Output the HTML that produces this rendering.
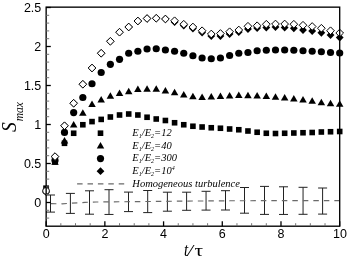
<!DOCTYPE html>
<html><head><meta charset="utf-8"><title>chart</title>
<style>
html,body{margin:0;padding:0;background:#fff}
body{width:353px;height:264px;position:relative;overflow:hidden;font-family:"Liberation Sans",sans-serif;color:#000}
svg{display:block}
</style></head><body>
<svg width="353" height="264" viewBox="0 0 353 264" style="position:absolute;left:0;top:0;will-change:transform;transform:translateZ(0)">
<g stroke="#222" stroke-width="1" fill="none">
<path d="M50.50 195.00V212.10M46.00 195.00H55.00M46.00 212.10H55.00"/>
<path d="M70.40 193.40V213.40M65.90 193.40H74.90M65.90 213.40H74.90"/>
<path d="M89.50 190.80V214.20M85.00 190.80H94.00M85.00 214.20H94.00"/>
<path d="M109.00 189.70V214.45M104.50 189.70H113.50M104.50 214.45H113.50"/>
<path d="M128.50 192.10V211.60M124.00 192.10H133.00M124.00 211.60H133.00"/>
<path d="M147.70 190.50V212.60M143.20 190.50H152.20M143.20 212.60H152.20"/>
<path d="M167.40 192.20V211.20M162.90 192.20H171.90M162.90 211.20H171.90"/>
<path d="M186.60 192.20V210.30M182.10 192.20H191.10M182.10 210.30H191.10"/>
<path d="M206.05 191.30V210.10M201.55 191.30H210.55M201.55 210.10H210.55"/>
<path d="M225.50 190.70V210.00M221.00 190.70H230.00M221.00 210.00H230.00"/>
<path d="M244.50 187.50V213.20M240.00 187.50H249.00M240.00 213.20H249.00"/>
<path d="M264.50 186.40V214.40M260.00 186.40H269.00M260.00 214.40H269.00"/>
<path d="M283.50 186.80V214.45M279.00 186.80H288.00M279.00 214.45H288.00"/>
<path d="M303.05 187.30V214.30M298.55 187.30H307.55M298.55 214.30H307.55"/>
<path d="M322.60 188.00V214.10M318.10 188.00H327.10M318.10 214.10H327.10"/>
</g>
<polyline fill="none" stroke="#6a6a6a" stroke-width="1.15" stroke-dasharray="5.5 5" stroke-dashoffset="5.75" points="46.15,203.6 62,203.8 85,202.4 96,202 150,201.5 185,201.1 230,200.8 280,200.6 339.7,200.6"/>
<path d="M77.1 183.85H125" fill="none" stroke="#6a6a6a" stroke-width="1.15" stroke-dasharray="5.5 4.9"/>
<g fill="#000">
<rect x="52.20" y="159.20" width="5.60" height="5.60"/>
<rect x="61.70" y="140.50" width="5.60" height="5.60"/>
<rect x="70.87" y="130.45" width="5.60" height="5.60"/>
<rect x="80.04" y="121.95" width="5.60" height="5.60"/>
<rect x="89.22" y="118.80" width="5.60" height="5.60"/>
<rect x="98.39" y="116.60" width="5.60" height="5.60"/>
<rect x="107.56" y="114.20" width="5.60" height="5.60"/>
<rect x="116.74" y="112.20" width="5.60" height="5.60"/>
<rect x="125.91" y="111.20" width="5.60" height="5.60"/>
<rect x="135.08" y="112.20" width="5.60" height="5.60"/>
<rect x="144.26" y="114.45" width="5.60" height="5.60"/>
<rect x="153.43" y="116.20" width="5.60" height="5.60"/>
<rect x="162.60" y="117.70" width="5.60" height="5.60"/>
<rect x="171.78" y="119.95" width="5.60" height="5.60"/>
<rect x="180.95" y="121.95" width="5.60" height="5.60"/>
<rect x="190.12" y="123.45" width="5.60" height="5.60"/>
<rect x="199.30" y="124.20" width="5.60" height="5.60"/>
<rect x="208.47" y="124.95" width="5.60" height="5.60"/>
<rect x="217.64" y="125.45" width="5.60" height="5.60"/>
<rect x="226.82" y="126.20" width="5.60" height="5.60"/>
<rect x="235.99" y="126.95" width="5.60" height="5.60"/>
<rect x="245.16" y="128.20" width="5.60" height="5.60"/>
<rect x="254.34" y="129.45" width="5.60" height="5.60"/>
<rect x="263.51" y="130.45" width="5.60" height="5.60"/>
<rect x="272.69" y="130.70" width="5.60" height="5.60"/>
<rect x="281.86" y="130.45" width="5.60" height="5.60"/>
<rect x="291.03" y="130.20" width="5.60" height="5.60"/>
<rect x="300.21" y="129.95" width="5.60" height="5.60"/>
<rect x="309.38" y="129.70" width="5.60" height="5.60"/>
<rect x="318.55" y="129.20" width="5.60" height="5.60"/>
<rect x="327.73" y="128.95" width="5.60" height="5.60"/>
<rect x="336.90" y="128.70" width="5.60" height="5.60"/>
<path d="M51.25 164.70L58.75 164.70L55.00 158.30Z"/>
<path d="M60.75 143.40L68.25 143.40L64.50 137.00Z"/>
<path d="M69.92 127.40L77.42 127.40L73.67 121.00Z"/>
<path d="M79.09 115.70L86.59 115.70L82.84 109.30Z"/>
<path d="M88.27 106.95L95.77 106.95L92.02 100.55Z"/>
<path d="M97.44 102.45L104.94 102.45L101.19 96.05Z"/>
<path d="M106.61 98.70L114.11 98.70L110.36 92.30Z"/>
<path d="M115.79 95.95L123.29 95.95L119.54 89.55Z"/>
<path d="M124.96 94.20L132.46 94.20L128.71 87.80Z"/>
<path d="M134.13 91.95L141.63 91.95L137.88 85.55Z"/>
<path d="M143.31 91.70L150.81 91.70L147.06 85.30Z"/>
<path d="M152.48 91.70L159.98 91.70L156.23 85.30Z"/>
<path d="M161.65 93.45L169.15 93.45L165.40 87.05Z"/>
<path d="M170.83 95.20L178.33 95.20L174.58 88.80Z"/>
<path d="M180.00 97.45L187.50 97.45L183.75 91.05Z"/>
<path d="M189.17 99.20L196.67 99.20L192.92 92.80Z"/>
<path d="M198.35 99.95L205.85 99.95L202.10 93.55Z"/>
<path d="M207.52 99.45L215.02 99.45L211.27 93.05Z"/>
<path d="M216.69 98.95L224.19 98.95L220.44 92.55Z"/>
<path d="M225.87 98.45L233.37 98.45L229.62 92.05Z"/>
<path d="M235.04 97.95L242.54 97.95L238.79 91.55Z"/>
<path d="M244.21 98.20L251.71 98.20L247.96 91.80Z"/>
<path d="M253.39 98.45L260.89 98.45L257.14 92.05Z"/>
<path d="M262.56 98.95L270.06 98.95L266.31 92.55Z"/>
<path d="M271.74 99.70L279.24 99.70L275.49 93.30Z"/>
<path d="M280.91 100.45L288.41 100.45L284.66 94.05Z"/>
<path d="M290.08 101.45L297.58 101.45L293.83 95.05Z"/>
<path d="M299.26 102.45L306.76 102.45L303.01 96.05Z"/>
<path d="M308.43 103.70L315.93 103.70L312.18 97.30Z"/>
<path d="M317.60 105.20L325.10 105.20L321.35 98.80Z"/>
<path d="M326.78 106.20L334.28 106.20L330.53 99.80Z"/>
<path d="M335.95 106.70L343.45 106.70L339.70 100.30Z"/>
<circle cx="55.00" cy="160.40" r="3.6"/>
<circle cx="64.50" cy="132.40" r="3.6"/>
<circle cx="73.67" cy="112.60" r="3.6"/>
<circle cx="82.84" cy="97.50" r="3.6"/>
<circle cx="92.02" cy="83.75" r="3.6"/>
<circle cx="101.19" cy="72.50" r="3.6"/>
<circle cx="110.36" cy="64.30" r="3.6"/>
<circle cx="119.54" cy="59.30" r="3.6"/>
<circle cx="128.71" cy="53.25" r="3.6"/>
<circle cx="137.88" cy="51.25" r="3.6"/>
<circle cx="147.06" cy="49.00" r="3.6"/>
<circle cx="156.23" cy="48.75" r="3.6"/>
<circle cx="165.40" cy="50.00" r="3.6"/>
<circle cx="174.58" cy="51.25" r="3.6"/>
<circle cx="183.75" cy="53.25" r="3.6"/>
<circle cx="192.92" cy="55.75" r="3.6"/>
<circle cx="202.10" cy="58.00" r="3.6"/>
<circle cx="211.27" cy="58.75" r="3.6"/>
<circle cx="220.44" cy="58.00" r="3.6"/>
<circle cx="229.62" cy="55.50" r="3.6"/>
<circle cx="238.79" cy="53.25" r="3.6"/>
<circle cx="247.96" cy="52.50" r="3.6"/>
<circle cx="257.14" cy="50.75" r="3.6"/>
<circle cx="266.31" cy="50.25" r="3.6"/>
<circle cx="275.49" cy="50.00" r="3.6"/>
<circle cx="284.66" cy="50.00" r="3.6"/>
<circle cx="293.83" cy="50.25" r="3.6"/>
<circle cx="303.01" cy="50.75" r="3.6"/>
<circle cx="312.18" cy="51.25" r="3.6"/>
<circle cx="321.35" cy="51.75" r="3.6"/>
<circle cx="330.53" cy="52.50" r="3.6"/>
<circle cx="339.70" cy="53.00" r="3.6"/>
<path d="M51.10 156.60L55.00 152.70L58.90 156.60L55.00 160.50Z"/>
<path d="M60.60 125.75L64.50 121.85L68.40 125.75L64.50 129.65Z"/>
<path d="M69.77 103.25L73.67 99.35L77.57 103.25L73.67 107.15Z"/>
<path d="M78.94 84.25L82.84 80.35L86.74 84.25L82.84 88.15Z"/>
<path d="M88.12 68.00L92.02 64.10L95.92 68.00L92.02 71.90Z"/>
<path d="M97.29 53.25L101.19 49.35L105.09 53.25L101.19 57.15Z"/>
<path d="M106.46 41.30L110.36 37.40L114.26 41.30L110.36 45.20Z"/>
<path d="M115.64 32.20L119.54 28.30L123.44 32.20L119.54 36.10Z"/>
<path d="M124.81 27.00L128.71 23.10L132.61 27.00L128.71 30.90Z"/>
<path d="M133.98 21.00L137.88 17.10L141.78 21.00L137.88 24.90Z"/>
<path d="M143.16 18.50L147.06 14.60L150.96 18.50L147.06 22.40Z"/>
<path d="M152.33 18.25L156.23 14.35L160.13 18.25L156.23 22.15Z"/>
<path d="M161.50 19.00L165.40 15.10L169.30 19.00L165.40 22.90Z"/>
<path d="M170.68 22.00L174.58 18.10L178.48 22.00L174.58 25.90Z"/>
<path d="M179.85 25.50L183.75 21.60L187.65 25.50L183.75 29.40Z"/>
<path d="M189.02 28.50L192.92 24.60L196.82 28.50L192.92 32.40Z"/>
<path d="M198.20 32.50L202.10 28.60L206.00 32.50L202.10 36.40Z"/>
<path d="M207.37 36.00L211.27 32.10L215.17 36.00L211.27 39.90Z"/>
<path d="M216.54 36.00L220.44 32.10L224.34 36.00L220.44 39.90Z"/>
<path d="M225.72 34.00L229.62 30.10L233.52 34.00L229.62 37.90Z"/>
<path d="M234.89 32.00L238.79 28.10L242.69 32.00L238.79 35.90Z"/>
<path d="M244.06 29.00L247.96 25.10L251.86 29.00L247.96 32.90Z"/>
<path d="M253.24 28.00L257.14 24.10L261.04 28.00L257.14 31.90Z"/>
<path d="M262.41 27.50L266.31 23.60L270.21 27.50L266.31 31.40Z"/>
<path d="M271.59 27.00L275.49 23.10L279.38 27.00L275.49 30.90Z"/>
<path d="M280.76 27.50L284.66 23.60L288.56 27.50L284.66 31.40Z"/>
<path d="M289.93 28.25L293.83 24.35L297.73 28.25L293.83 32.15Z"/>
<path d="M299.11 30.00L303.01 26.10L306.91 30.00L303.01 33.90Z"/>
<path d="M308.28 31.00L312.18 27.10L316.08 31.00L312.18 34.90Z"/>
<path d="M317.45 32.75L321.35 28.85L325.25 32.75L321.35 36.65Z"/>
<path d="M326.63 35.00L330.53 31.10L334.43 35.00L330.53 38.90Z"/>
<path d="M335.80 37.50L339.70 33.60L343.60 37.50L339.70 41.40Z"/>
<rect x="43.20" y="185.40" width="5.80" height="5.80"/>
<path d="M42.20 192.10L46.10 188.20L50.00 192.10L46.10 196.00Z"/>
</g>
<g fill="#fff" stroke="#000" stroke-width="1">
<path d="M51.15 156.60L55.00 152.75L58.85 156.60L55.00 160.45Z"/>
<path d="M60.65 125.75L64.50 121.90L68.35 125.75L64.50 129.60Z"/>
<path d="M69.82 103.25L73.67 99.40L77.52 103.25L73.67 107.10Z"/>
<path d="M78.99 84.25L82.84 80.40L86.69 84.25L82.84 88.10Z"/>
<path d="M88.17 68.00L92.02 64.15L95.87 68.00L92.02 71.85Z"/>
<path d="M97.34 53.25L101.19 49.40L105.04 53.25L101.19 57.10Z"/>
<path d="M106.51 41.30L110.36 37.45L114.21 41.30L110.36 45.15Z"/>
<path d="M115.69 32.20L119.54 28.35L123.39 32.20L119.54 36.05Z"/>
<path d="M124.86 27.00L128.71 23.15L132.56 27.00L128.71 30.85Z"/>
<path d="M134.03 21.00L137.88 17.15L141.73 21.00L137.88 24.85Z"/>
<path d="M143.21 18.50L147.06 14.65L150.91 18.50L147.06 22.35Z"/>
<path d="M152.38 18.25L156.23 14.40L160.08 18.25L156.23 22.10Z"/>
<path d="M161.55 19.00L165.40 15.15L169.25 19.00L165.40 22.85Z"/>
<path d="M170.73 20.75L174.58 16.90L178.43 20.75L174.58 24.60Z"/>
<path d="M179.90 24.25L183.75 20.40L187.60 24.25L183.75 28.10Z"/>
<path d="M189.07 27.00L192.92 23.15L196.77 27.00L192.92 30.85Z"/>
<path d="M198.25 30.75L202.10 26.90L205.95 30.75L202.10 34.60Z"/>
<path d="M207.42 34.00L211.27 30.15L215.12 34.00L211.27 37.85Z"/>
<path d="M216.59 33.50L220.44 29.65L224.29 33.50L220.44 37.35Z"/>
<path d="M225.77 31.75L229.62 27.90L233.47 31.75L229.62 35.60Z"/>
<path d="M234.94 30.00L238.79 26.15L242.64 30.00L238.79 33.85Z"/>
<path d="M244.11 26.25L247.96 22.40L251.81 26.25L247.96 30.10Z"/>
<path d="M253.29 25.75L257.14 21.90L260.99 25.75L257.14 29.60Z"/>
<path d="M262.46 24.25L266.31 20.40L270.16 24.25L266.31 28.10Z"/>
<path d="M271.63 24.00L275.49 20.15L279.34 24.00L275.49 27.85Z"/>
<path d="M280.81 24.00L284.66 20.15L288.51 24.00L284.66 27.85Z"/>
<path d="M289.98 24.25L293.83 20.40L297.68 24.25L293.83 28.10Z"/>
<path d="M299.16 25.25L303.01 21.40L306.86 25.25L303.01 29.10Z"/>
<path d="M308.33 26.50L312.18 22.65L316.03 26.50L312.18 30.35Z"/>
<path d="M317.50 28.25L321.35 24.40L325.20 28.25L321.35 32.10Z"/>
<path d="M326.68 30.75L330.53 26.90L334.38 30.75L330.53 34.60Z"/>
<path d="M335.85 33.00L339.70 29.15L343.55 33.00L339.70 36.85Z"/>
<circle cx="46.05" cy="190.90" r="3.4"/>
</g>
<g fill="#000">
<rect x="97.70" y="130.40" width="5.60" height="5.60"/>
<path d="M96.75 148.50L104.25 148.50L100.50 142.10Z"/>
<circle cx="100.50" cy="158.60" r="3.6"/>
<path d="M96.60 171.20L100.50 167.30L104.40 171.20L100.50 175.10Z"/>
</g>
<rect x="46.15" y="7.15" width="293.55" height="219.05" fill="none" stroke="#000" stroke-width="1.35"/>
<g stroke="#000" stroke-width="1.3">
<path d="M46 202.5H50.8"/>
<path d="M46 163.5H50.8"/>
<path d="M46 124.5H50.8"/>
<path d="M46 85.5H50.8"/>
<path d="M46 46.5H50.8"/>
<path d="M46 7.5H50.8"/>
<path d="M46.15 226.2V221.3"/>
<path d="M104.86 226.2V221.3"/>
<path d="M163.57 226.2V221.3"/>
<path d="M222.28 226.2V221.3"/>
<path d="M280.99 226.2V221.3"/>
<path d="M339.70 226.2V221.3"/>
</g>
<g stroke="#666" stroke-width="0.9">
<path d="M46 218.10H49.2"/>
<path d="M46 210.30H49.2"/>
<path d="M46 194.70H49.2"/>
<path d="M46 186.90H49.2"/>
<path d="M46 179.10H49.2"/>
<path d="M46 171.30H49.2"/>
<path d="M46 155.70H49.2"/>
<path d="M46 147.90H49.2"/>
<path d="M46 140.10H49.2"/>
<path d="M46 132.30H49.2"/>
<path d="M46 116.70H49.2"/>
<path d="M46 108.90H49.2"/>
<path d="M46 101.10H49.2"/>
<path d="M46 93.30H49.2"/>
<path d="M46 77.70H49.2"/>
<path d="M46 69.90H49.2"/>
<path d="M46 62.10H49.2"/>
<path d="M46 54.30H49.2"/>
<path d="M46 38.70H49.2"/>
<path d="M46 30.90H49.2"/>
<path d="M46 23.10H49.2"/>
<path d="M46 15.30H49.2"/>
<path d="M60.83 226.2V223.2"/>
<path d="M75.50 226.2V223.2"/>
<path d="M90.18 226.2V223.2"/>
<path d="M119.54 226.2V223.2"/>
<path d="M134.22 226.2V223.2"/>
<path d="M148.89 226.2V223.2"/>
<path d="M178.25 226.2V223.2"/>
<path d="M192.93 226.2V223.2"/>
<path d="M207.60 226.2V223.2"/>
<path d="M236.96 226.2V223.2"/>
<path d="M251.64 226.2V223.2"/>
<path d="M266.31 226.2V223.2"/>
<path d="M295.67 226.2V223.2"/>
<path d="M310.34 226.2V223.2"/>
<path d="M325.02 226.2V223.2"/>
</g>
<g font-family="'Liberation Sans', sans-serif" font-size="12.5" fill="#000">
<text x="41.3" y="11.95" text-anchor="end">2.5</text>
<text x="41.3" y="50.95" text-anchor="end">2</text>
<text x="41.3" y="89.95" text-anchor="end">1.5</text>
<text x="41.3" y="128.95" text-anchor="end">1</text>
<text x="41.3" y="167.95" text-anchor="end">0.5</text>
<text x="41.3" y="206.95" text-anchor="end">0</text>
<text x="46.15" y="238.3" text-anchor="middle">0</text>
<text x="104.86" y="238.3" text-anchor="middle">2</text>
<text x="163.57" y="238.3" text-anchor="middle">4</text>
<text x="222.28" y="238.3" text-anchor="middle">6</text>
<text x="281.00" y="238.3" text-anchor="middle">8</text>
<text x="339.90" y="238.3" text-anchor="middle">10</text>
</g>
<g font-family="'Liberation Serif', serif" font-style="italic" fill="#000">
<text x="132.3" y="136.2" font-size="10.5">E<tspan dy="2.2" font-size="6">1</tspan><tspan dy="-2.2">/E</tspan><tspan dy="2.2" font-size="6">2</tspan><tspan dy="-2.2">=12</tspan></text>
<text x="132.3" y="148.7" font-size="10.5">E<tspan dy="2.2" font-size="6">1</tspan><tspan dy="-2.2">/E</tspan><tspan dy="2.2" font-size="6">2</tspan><tspan dy="-2.2">=40</tspan></text>
<text x="132.3" y="161.2" font-size="10.5">E<tspan dy="2.2" font-size="6">1</tspan><tspan dy="-2.2">/E</tspan><tspan dy="2.2" font-size="6">2</tspan><tspan dy="-2.2">=300</tspan></text>
<text x="132.3" y="174.2" font-size="10.5">E<tspan dy="2.2" font-size="6">1</tspan><tspan dy="-2.2">/E</tspan><tspan dy="2.2" font-size="6">2</tspan><tspan dy="-2.2">=10<tspan dy="-4" font-size="6">4</tspan></tspan></text>
<text x="132.3" y="186.5" font-size="10.5">Homogeneous turbulence</text>
<text transform="translate(183.9,255.8) scale(0.86,1.03)" font-size="17.5">t</text>
<text transform="translate(187.4,256.2) scale(1.14,0.97)" font-size="17.5">/</text>
<text transform="translate(194.6,255.7) scale(1.33,1)" font-size="16" font-style="normal">τ</text>
<text transform="translate(16.1,131.9) rotate(-90) scale(0.94,1)" font-size="20.9">S</text>
<text transform="translate(22.6,121.3) rotate(-90)" font-size="11.5">max</text>
</g>
</svg>
</body></html>
